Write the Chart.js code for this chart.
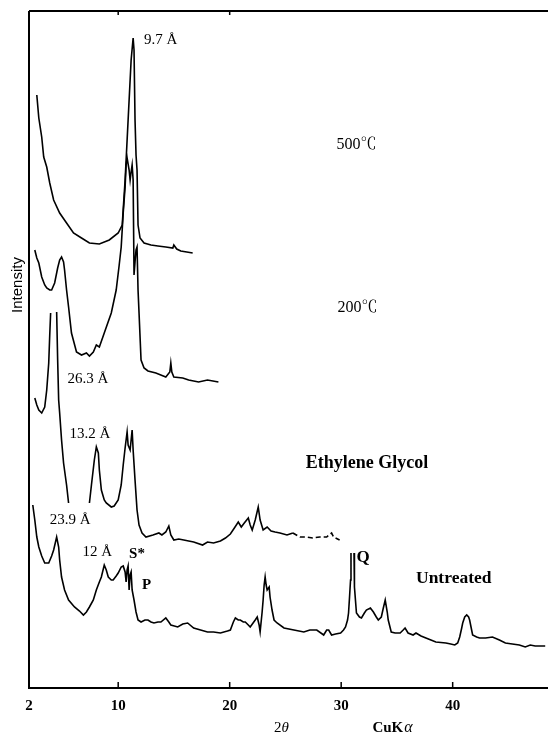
<!DOCTYPE html>
<html>
<head>
<meta charset="utf-8">
<script src="https://cdn.jsdelivr.net/npm/chart.js@4/dist/chart.umd.min.js"></script>
<style>
  html, body { margin: 0; padding: 0; background: #fff; }
  #wrap { width: 548px; height: 735px; }
</style>
</head>
<body>
<div id="wrap"><canvas id="c" width="548" height="735"></canvas></div>
<script>
// ---- Data: [2-theta (deg), intensity (arbitrary, offset traces)] ----
const xTicks = [2, 10, 20, 30, 40];

const heated500 = [
  [2.70,593],[2.88,570],[3.14,551],[3.32,531],[3.59,521],[3.86,505],[4.21,488],[4.75,475],
  [5.37,465],[5.99,455],[6.71,450],[7.42,445],[8.31,444],[9.20,448],[10.00,455],[10.36,463],
  [10.62,508],[10.89,568],[11.16,628],[11.34,650],[11.42,638],[11.51,568],[11.60,533],[11.69,518],
  [11.78,463],[11.96,450],[12.32,445],[12.94,443],[13.56,442],[14.27,441],[14.90,440],[14.99,443],
  [15.25,439],[15.61,437],[16.15,436],[16.68,435]
];

const heated200 = [
  [2.52,438],[2.70,430],[2.88,425],[3.14,411],[3.41,403],[3.59,400],[3.86,398],[4.03,398],
  [4.30,405],[4.57,420],[4.75,428],[4.92,431],[5.10,426],[5.19,418],[5.37,398],[5.55,381],
  [5.81,355],[6.26,336],[6.71,333],[7.15,335],[7.42,332],[7.77,336],[8.04,343],[8.31,341],
  [8.75,355],[9.38,375],[9.82,398],[10.09,423],[10.27,441],[10.45,475],[10.62,501],[10.71,523],
  [10.80,530],[10.98,518],[11.07,508],[11.16,516],[11.25,523],[11.34,508],[11.42,413],[11.51,426],
  [11.60,438],[11.69,441],[11.78,398],[11.87,375],[12.05,328],[12.32,320],[12.67,317],[13.38,315],
  [14.27,311],[14.63,316],[14.72,325],[14.81,316],[14.99,311],[15.79,310],[16.32,308],[17.21,306],
  [18.01,308],[18.99,306]
];

const glycol = [
  [2.52,290],[2.70,283],[2.88,278],[3.14,275],[3.41,281],[3.59,298],[3.77,325],[3.86,353],
  [3.94,375],[4.20,null],[4.48,376],[4.57,328],[4.66,288],[4.75,275],[4.92,248],[5.10,225],
  [5.37,203],[5.55,185],[6.50,null],[7.42,185],[7.60,203],[7.86,228],[8.04,241],[8.22,235],
  [8.31,218],[8.49,198],[8.75,188],[8.93,185],[9.38,181],[9.64,182],[10.00,188],[10.27,203],
  [10.45,223],[10.62,240],[10.80,256],[10.89,243],[11.07,238],[11.25,258],[11.34,238],[11.51,208],
  [11.69,178],[11.87,163],[12.14,155],[12.49,151],[13.12,153],[13.65,155],[13.92,153],[14.27,156],
  [14.54,162],[14.72,153],[14.99,148],[15.43,149],[15.88,148],[16.32,147],[16.77,146],[17.57,143],
  [18.01,146],[18.55,145],[19.17,147],[19.62,150],[20.06,154],[20.42,160],[20.77,166],[21.04,161],
  [21.31,165],[21.67,170],[21.84,163],[22.02,158],[22.29,168],[22.56,181],[22.73,168],[23.00,158],
  [23.36,161],[23.71,157],[24.07,156],[24.51,155],[25.14,153],[25.67,155],[26.30,151],[26.92,151],
  [27.45,150],[28.08,151],[28.70,151],[29.14,155],[29.32,151],[29.86,148]
];

const untreated = [
  [2.34,183],[2.52,168],[2.70,151],[2.88,141],[3.14,132],[3.41,125],[3.77,125],[4.03,132],
  [4.21,138],[4.48,151],[4.66,141],[4.75,128],[4.92,111],[5.19,98],[5.55,88],[6.08,81],
  [6.53,77],[6.88,73],[7.15,76],[7.42,81],[7.77,88],[8.04,98],[8.31,106],[8.49,111],
  [8.75,123],[8.93,118],[9.11,111],[9.38,108],[9.55,108],[9.82,112],[10.00,115],[10.27,121],
  [10.45,122],[10.62,116],[10.71,106],[10.80,118],[10.89,122],[10.98,98],[11.07,113],[11.16,116],
  [11.25,98],[11.42,88],[11.60,76],[11.78,68],[12.05,66],[12.40,68],[12.67,68],[12.94,66],
  [13.21,65],[13.56,66],[13.83,66],[14.27,70],[14.54,66],[14.72,63],[15.34,61],[15.79,64],
  [16.23,65],[16.77,60],[17.39,58],[18.01,56],[18.55,56],[19.17,55],[19.80,57],[20.06,58],
  [20.33,66],[20.51,70],[20.77,68],[20.95,68],[21.22,66],[21.40,66],[21.67,63],[21.84,61],
  [22.29,68],[22.47,71],[22.64,63],[22.73,56],[22.91,76],[23.00,88],[23.09,103],[23.18,111],
  [23.27,103],[23.36,98],[23.54,101],[23.62,91],[23.80,78],[23.98,68],[24.25,65],[24.87,60],
  [25.76,58],[26.65,56],[27.19,58],[27.81,58],[28.43,53],[28.70,58],[28.88,58],[29.14,53],
  [29.50,54],[29.95,55],[30.21,58],[30.39,61],[30.57,68],[30.66,75],[30.75,91],[30.84,108],
  [30.88,135],[31.00,null],[31.15,135],[31.19,101],[31.37,75],[31.64,71],[31.82,70],[32.08,75],
  [32.26,78],[32.62,80],[32.89,76],[33.15,71],[33.33,68],[33.60,71],[33.78,80],[33.95,88],
  [34.13,76],[34.22,68],[34.49,56],[34.84,55],[35.29,55],[35.56,58],[35.73,60],[36.00,55],
  [36.45,53],[36.71,55],[37.16,52],[37.60,50],[38.05,48],[38.49,46],[39.39,45],[39.83,44],
  [40.19,43],[40.45,45],[40.63,51],[40.81,60],[40.90,65],[41.08,71],[41.26,73],[41.43,71],
  [41.52,68],[41.70,58],[41.79,53],[42.15,51],[42.41,50],[42.95,50],[43.57,51],[44.19,48],
  [44.73,45],[45.35,44],[45.98,43],[46.51,41],[46.96,43],[47.40,42],[48.30,42]
];

const annotations = [
  { text: '9.7 Å',           x: 12.32, y: 648, bold: false, size: 15 },
  { text: '500℃',            x: 29.59, y: 543, bold: false, size: 16 },
  { text: '200℃',            x: 29.68, y: 380, bold: false, size: 16 },
  { text: '26.3 Å',          x: 5.46,  y: 309, bold: false, size: 15 },
  { text: '13.2 Å',          x: 5.64,  y: 254, bold: false, size: 15 },
  { text: 'Ethylene Glycol', x: 26.83, y: 225, bold: true,  size: 18 },
  { text: '23.9 Å',          x: 3.86,  y: 168, bold: false, size: 15 },
  { text: '12 Å',            x: 6.79,  y: 136, bold: false, size: 15 },
  { text: 'S*',              x: 10.98, y: 134, bold: true,  size: 15 },
  { text: 'P',               x: 12.14, y: 103, bold: true,  size: 15 },
  { text: 'Q',               x: 31.37, y: 130, bold: true,  size: 17 },
  { text: 'Untreated',       x: 36.71, y: 110, bold: true,  size: 17.5 }
];

const toPts = arr => arr.map(p => ({ x: p[0], y: p[1] }));
const SERIF = "'Liberation Serif', 'Times New Roman', 'Noto Serif CJK SC', 'Noto Sans CJK SC', serif";

const framePlugin = {
  id: 'frame',
  afterDatasetsDraw(chart) {
    const { ctx, chartArea: a, scales: { x, y } } = chart;
    ctx.save();
    ctx.strokeStyle = '#000';
    ctx.lineWidth = 2;
    ctx.beginPath();
    ctx.moveTo(a.left, a.top);
    ctx.lineTo(a.left, a.bottom);
    ctx.lineTo(a.right, a.bottom);
    ctx.moveTo(a.left, a.top);
    ctx.lineTo(a.right, a.top);
    ctx.stroke();
    // inside tick marks
    ctx.lineWidth = 1.5;
    ctx.beginPath();
    xTicks.forEach(t => {
      if (t === xTicks[0]) return;
      const px = x.getPixelForValue(t);
      ctx.moveTo(px, a.bottom);
      ctx.lineTo(px, a.bottom - 6);
    });
    [10, 20].forEach(t => {
      const px = x.getPixelForValue(t);
      ctx.moveTo(px, a.top);
      ctx.lineTo(px, a.top + 4);
    });
    ctx.stroke();

    // annotations
    ctx.fillStyle = '#000';
    ctx.textBaseline = 'middle';
    ctx.textAlign = 'left';
    annotations.forEach(an => {
      ctx.font = (an.bold ? 'bold ' : '') + an.size + 'px ' + SERIF;
      ctx.fillText(an.text, x.getPixelForValue(an.x), y.getPixelForValue(an.y));
    });

    // x-axis title pieces
    const ty = a.bottom + 40;
    ctx.font = '15px ' + SERIF;
    let px = x.getPixelForValue(24.6) - 7;
    ctx.fillText('2', px, ty);
    px += ctx.measureText('2').width;
    ctx.font = 'italic 15px ' + SERIF;
    ctx.fillText('θ', px, ty);
    px = x.getPixelForValue(32.8);
    ctx.font = 'bold 15px ' + SERIF;
    ctx.fillText('CuK', px, ty);
    px += ctx.measureText('CuK').width + 1;
    ctx.font = 'italic 16px ' + SERIF;
    ctx.fillText('α', px, ty);

    // y-axis title
    ctx.save();
    ctx.translate(18, a.top + 274);
    ctx.rotate(-Math.PI / 2);
    ctx.textAlign = 'center';
    ctx.font = "15px 'Liberation Sans', Arial, sans-serif";
    ctx.fillText('Intensity', 0, 0);
    ctx.restore();
    ctx.restore();
  }
};

const lineDs = (label, pts, extra) => Object.assign({
  label, data: toPts(pts), borderColor: '#000', borderWidth: 1.6,
  pointRadius: 0, tension: 0, spanGaps: false, fill: false
}, extra || {});

new Chart(document.getElementById('c'), {
  type: 'line',
  data: {
    datasets: [
      lineDs('500℃', heated500),
      lineDs('200℃', heated200),
      lineDs('Ethylene Glycol', glycol, {
        segment: { borderDash: c => (c.p0.parsed.x > 25.5 ? [5, 3] : undefined) }
      }),
      lineDs('Untreated', untreated)
    ]
  },
  options: {
    responsive: false,
    animation: false,
    devicePixelRatio: 1,
    layout: { padding: { top: 11, left: 0, right: 0, bottom: 0 } },
    plugins: { legend: { display: false }, tooltip: { enabled: false } },
    scales: {
      x: {
        type: 'linear', min: 2, max: 48.55,
        afterBuildTicks: s => { s.ticks = xTicks.map(v => ({ value: v })); },
        afterFit: s => { s.height = 47; },
        grid: { display: false, drawTicks: false },
        border: { display: false },
        ticks: {
          color: '#000', padding: 9, maxRotation: 0,
          font: { family: SERIF, size: 15, weight: 'bold' },
          callback: v => String(v)
        }
      },
      y: {
        type: 'linear', min: 0, max: 677,
        afterFit: s => { s.width = 29; },
        grid: { display: false, drawTicks: false },
        border: { display: false },
        ticks: { display: false }
      }
    }
  },
  plugins: [framePlugin]
});
</script>
</body>
</html>
